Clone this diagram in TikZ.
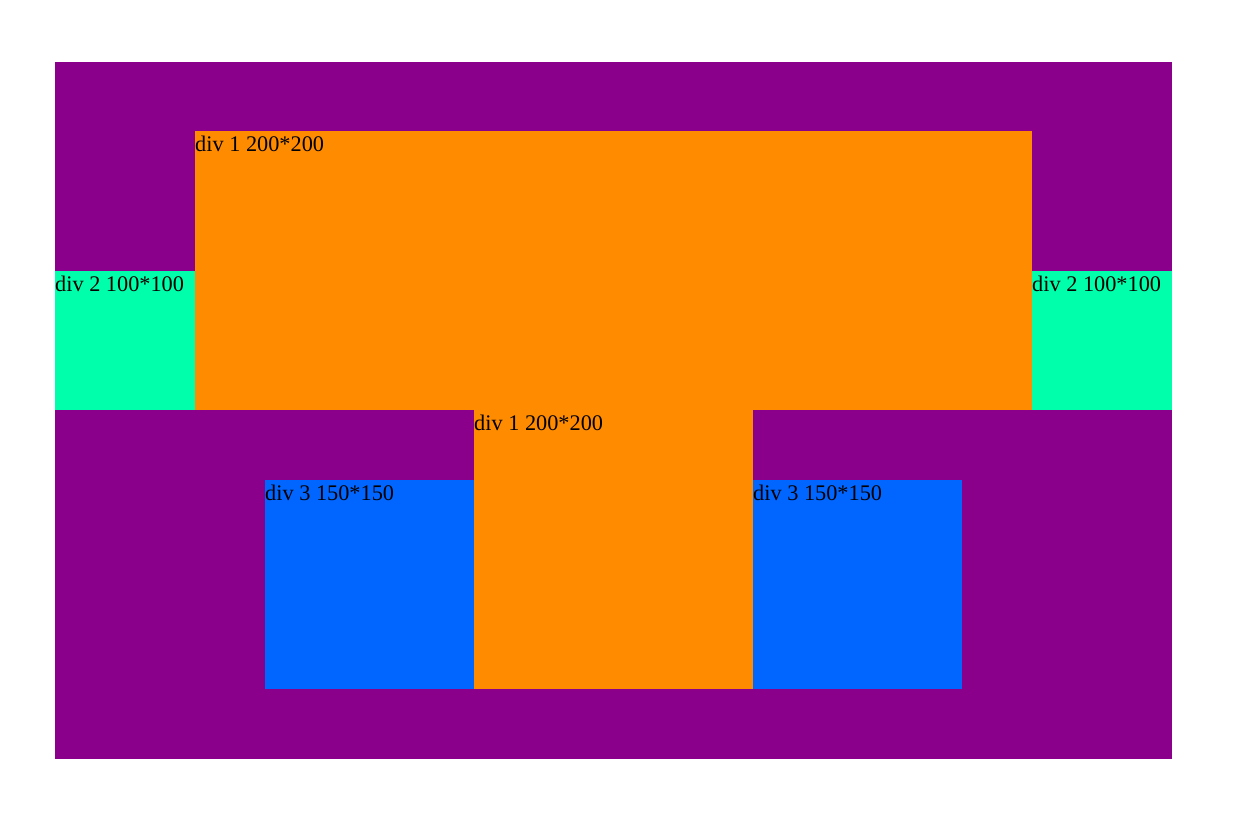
\documentclass[tikz,border=0pt]{standalone}
\usepackage{fontspec}
\setmainfont{Liberation Serif}
\usepackage{tikz}
\definecolor{boxpurple}{HTML}{8B008B}
\definecolor{boxorange}{HTML}{FF8C00}
\definecolor{boxgreen}{HTML}{00FFAA}
\definecolor{boxblue}{HTML}{0066FF}
\tikzset{divlabel/.style={anchor=base west,inner sep=0pt,font=\fontsize{22.3}{26}\selectfont}}

\begin{document}
\begin{tikzpicture}[x=1pt,y=-1pt]
  \useasboundingbox (0,0) rectangle (1242,834);
  \fill[boxpurple] (55,62) rectangle (1172,759);
  \fill[boxorange] (195,131) rectangle (1032,410);
  \fill[boxgreen] (55,271) rectangle (195,410);
  \fill[boxgreen] (1032,271) rectangle (1172,410);
  \fill[boxorange] (474,410) rectangle (753,689);
  \fill[boxblue] (265,480) rectangle (474,689);
  \fill[boxblue] (753,480) rectangle (962,689);
  \node[divlabel] (top) at (195,151.7) {div 1 200*200};
  \node[divlabel] (left) at (55,291.7) {div 2 100*100};
  \node[divlabel] (right) at (1032,291.7) {div 2 100*100};
  \node[divlabel] (stem) at (474,430.7) {div 1 200*200};
  \node[divlabel] (lblue) at (265,500.7) {div 3 150*150};
  \node[divlabel] (rblue) at (753,500.7) {div 3 150*150};
\end{tikzpicture}
\end{document}
